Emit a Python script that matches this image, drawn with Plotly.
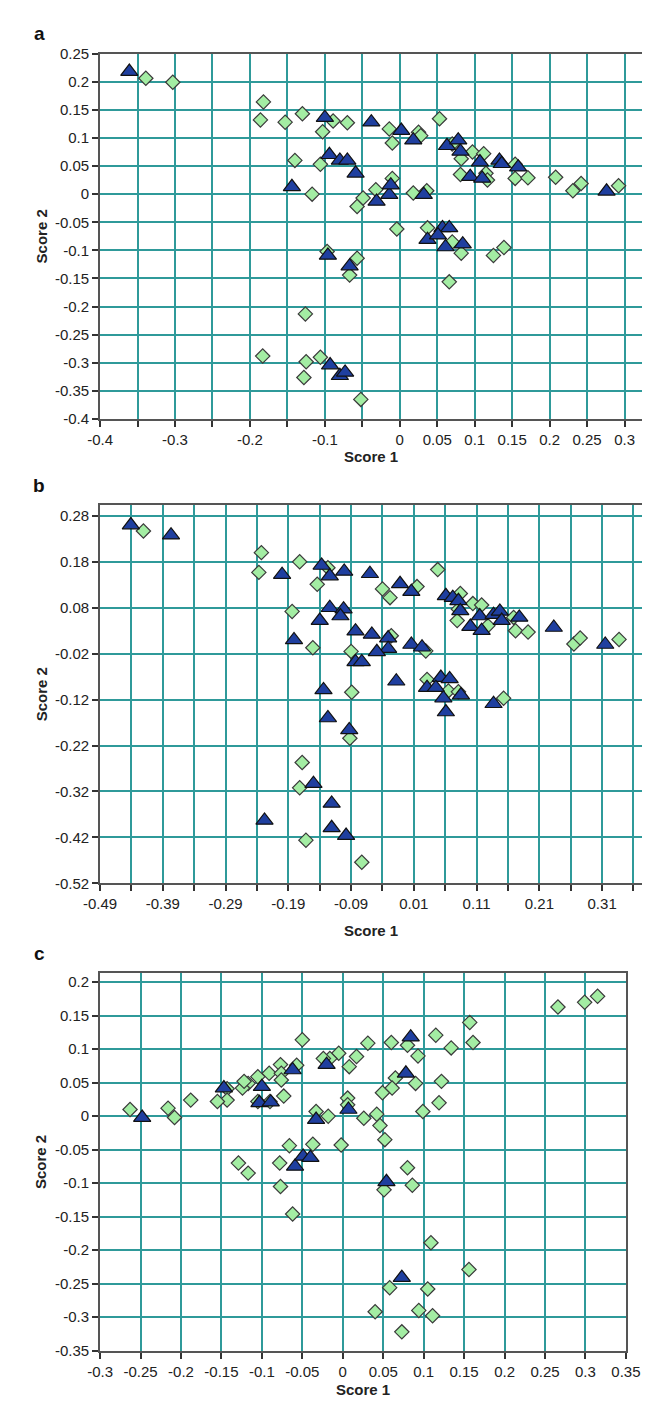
import plotly.graph_objects as go

W, H = 650, 1401

# ---------------- Panel a ----------------
a_tri_x = [-0.361, -0.100, -0.038, 0.002, 0.018, 0.063, 0.078, 0.081, -0.094, -0.080, -0.070, -0.059,
           -0.144, -0.031, -0.014, -0.012, 0.032, 0.094, 0.107, 0.110, 0.133, 0.136, 0.158, 0.276,
           0.057, 0.066, 0.037, 0.051, 0.061, 0.084, -0.096, -0.067, -0.093, -0.080, -0.073]
a_tri_y = [0.218, 0.136, 0.128, 0.113, 0.096, 0.086, 0.096, 0.076, 0.070, 0.060, 0.060, 0.037,
           0.013, -0.013, -0.001, 0.016, -0.001, 0.031, 0.057, 0.028, 0.060, 0.054, 0.048, 0.005,
           -0.060, -0.060, -0.081, -0.073, -0.094, -0.089, -0.109, -0.128, -0.304, -0.323, -0.317]
a_dia_x = [-0.339, -0.303, -0.182, -0.186, -0.153, -0.130, -0.089, -0.103, -0.070, -0.014, -0.010,
           0.025, 0.028, 0.053, 0.070, 0.082, 0.097, 0.112, 0.081, 0.115, 0.117, 0.154, 0.171, 0.208,
           0.231, 0.242, 0.292, -0.140, -0.106, -0.117, -0.010, -0.032, -0.049, -0.057, 0.018, 0.036,
           0.154, -0.004, 0.037, 0.070, 0.082, 0.125, 0.139, 0.066, -0.097, -0.057, -0.067, -0.126,
           -0.183, -0.125, -0.106, -0.128, -0.052]
a_dia_y = [0.206, 0.199, 0.164, 0.132, 0.128, 0.143, 0.130, 0.111, 0.127, 0.116, 0.091,
           0.110, 0.104, 0.134, 0.089, 0.063, 0.075, 0.072, 0.035, 0.037, 0.025, 0.028, 0.029, 0.030,
           0.006, 0.019, 0.015, 0.060, 0.053, 0.000, 0.028, 0.008, -0.007, -0.022, 0.002, 0.006,
           0.053, -0.062, -0.060, -0.085, -0.105, -0.109, -0.095, -0.156, -0.102, -0.114, -0.144, -0.213,
           -0.288, -0.298, -0.290, -0.326, -0.365]
a_xticks = [-0.4, -0.35, -0.3, -0.25, -0.2, -0.15, -0.1, -0.05, 0, 0.05, 0.1, 0.15, 0.2, 0.25, 0.3]
a_xlabels = ["-0.4", "", "-0.3", "", "-0.2", "", "-0.1", "", "0", "0.05", "0.1", "0.15", "0.2", "0.25", "0.3"]
a_yticks = [0.25, 0.2, 0.15, 0.1, 0.05, 0, -0.05, -0.1, -0.15, -0.2, -0.25, -0.3, -0.35, -0.4]
a_ylabels = ["0.25", "0.2", "0.15", "0.1", "0.05", "0", "-0.05", "-0.1", "-0.15", "-0.2", "-0.25", "-0.3", "-0.35", "-0.4"]

# ---------------- Panel b ----------------
b_tri_x = [-0.441, -0.377, -0.200, -0.137, -0.124, -0.101, -0.060, -0.012, 0.006, 0.061, 0.072, 0.081,
           0.084, -0.124, -0.102, -0.107, -0.140, -0.083, -0.057, -0.031, -0.031, -0.049, -0.083, -0.073,
           -0.181, 0.006, 0.023, 0.100, 0.115, 0.118, 0.137, 0.147, 0.150, 0.178, 0.233, 0.315,
           -0.018, 0.031, 0.053, 0.067, 0.045, 0.057, 0.085, 0.061, 0.137, -0.134, -0.127, -0.093,
           -0.150, -0.121, -0.228, -0.121, -0.098]
b_tri_y = [0.260, 0.238, 0.152, 0.172, 0.149, 0.159, 0.154, 0.132, 0.115, 0.106, 0.102, 0.095,
           0.073, 0.080, 0.077, 0.062, 0.052, 0.029, 0.022, 0.014, -0.009, -0.016, -0.038, -0.038,
           0.010, 0.000, -0.006, 0.039, 0.062, 0.030, 0.065, 0.072, 0.052, 0.059, 0.037, 0.000,
           -0.080, -0.094, -0.072, -0.075, -0.094, -0.117, -0.110, -0.147, -0.129, -0.099, -0.160, -0.186,
           -0.303, -0.346, -0.383, -0.399, -0.416]
b_dia_x = [-0.421, -0.233, -0.237, -0.172, -0.127, -0.144, -0.040, -0.028, 0.015, 0.048, 0.084, 0.104,
           0.118, 0.081, 0.079, 0.128, 0.172, 0.192, 0.265, 0.275, 0.337, -0.184, -0.151, -0.090,
           -0.026, 0.029, 0.169, 0.031, 0.065, 0.081, 0.153, -0.089, -0.092, -0.168, -0.172, -0.162,
           -0.073]
b_dia_y = [0.247, 0.200, 0.157, 0.180, 0.167, 0.131, 0.121, 0.102, 0.126, 0.163, 0.111, 0.089,
           0.086, 0.077, 0.052, 0.041, 0.030, 0.027, 0.001, 0.014, 0.011, 0.072, -0.007, -0.015,
           0.019, -0.014, 0.059, -0.076, -0.101, -0.103, -0.117, -0.104, -0.204, -0.257, -0.312, -0.426,
           -0.474]
b_xticks = [-0.49, -0.44, -0.39, -0.34, -0.29, -0.24, -0.19, -0.14, -0.09, -0.04, 0.01, 0.06, 0.11,
            0.16, 0.21, 0.26, 0.31, 0.36]
b_xlabels = ["-0.49", "", "-0.39", "", "-0.29", "", "-0.19", "", "-0.09", "", "0.01", "", "0.11",
             "", "0.21", "", "0.31", ""]
b_yticks = [0.28, 0.18, 0.08, -0.02, -0.12, -0.22, -0.32, -0.42, -0.52]
b_ylabels = ["0.28", "0.18", "0.08", "-0.02", "-0.12", "-0.22", "-0.32", "-0.42", "-0.52"]

# ---------------- Panel c ----------------
c_tri_x = [-0.248, -0.147, -0.100, -0.103, -0.089, -0.062, -0.020, 0.007, -0.033, 0.084, 0.078,
           -0.059, -0.049, -0.040, 0.054, 0.073]
c_tri_y = [-0.002, 0.042, 0.044, 0.020, 0.021, 0.069, 0.077, 0.010, -0.005, 0.118, 0.064,
           -0.075, -0.060, -0.062, -0.098, -0.241]
c_dia_x = [0.266, 0.299, 0.315, 0.157, 0.161, 0.115, 0.134, 0.060, 0.080, 0.093, 0.065, 0.061,
           0.049, 0.090, 0.122, 0.119, 0.099, 0.031, 0.017, 0.008, -0.005, -0.016, -0.024, -0.050,
           0.006, 0.006, 0.026, 0.042, 0.046, 0.052, -0.033, -0.018, -0.037, -0.002, -0.066, -0.073,
           -0.090, -0.105, -0.091, -0.077, -0.076, -0.076, -0.057, -0.105, -0.117, -0.124, -0.122,
           -0.143, -0.143, -0.155, -0.188, -0.216, -0.208, -0.263,
           -0.129, -0.117, -0.078, -0.077, -0.062, 0.080, 0.086, 0.051, 0.109, 0.156, 0.058, 0.105,
           0.040, 0.094, 0.111, 0.073]
c_dia_y = [0.163, 0.170, 0.179, 0.140, 0.110, 0.121, 0.102, 0.110, 0.106, 0.090, 0.057, 0.042,
           0.035, 0.049, 0.052, 0.020, 0.007, 0.109, 0.089, 0.074, 0.094, 0.086, 0.086, 0.114,
           0.027, 0.017, -0.003, 0.003, -0.014, -0.035, 0.007, 0.000, -0.042, -0.043, -0.044, 0.030,
           0.022, 0.022, 0.064, 0.077, 0.064, 0.054, 0.076, 0.059, 0.049, 0.042, 0.052,
           0.041, 0.024, 0.022, 0.024, 0.012, -0.002, 0.010,
           -0.070, -0.085, -0.070, -0.105, -0.146, -0.077, -0.103, -0.110, -0.189, -0.229, -0.256, -0.258,
           -0.292, -0.290, -0.298, -0.322]
c_xticks = [-0.3, -0.25, -0.2, -0.15, -0.1, -0.05, 0, 0.05, 0.1, 0.15, 0.2, 0.25, 0.3, 0.35]
c_xlabels = ["-0.3", "-0.25", "-0.2", "-0.15", "-0.1", "-0.05", "0", "0.05", "0.1", "0.15", "0.2",
             "0.25", "0.3", "0.35"]
c_yticks = [0.2, 0.15, 0.1, 0.05, 0, -0.05, -0.1, -0.15, -0.2, -0.25, -0.3, -0.35]
c_ylabels = ["0.2", "0.15", "0.1", "0.05", "0", "-0.05", "-0.1", "-0.15", "-0.2", "-0.25", "-0.3", "-0.35"]

FONT = "Liberation Sans Narrow, Arial Narrow, Liberation Sans, Arial, sans-serif"
GRID = "#2f9a9a"
TRI_FILL = "#1f3f9f"
DIA_FILL = "#a3eda3"

# pixel boxes of plot areas: (left, right, top, bottom)
boxes = [
    (79, 650, 37, 407),
    (79, 650, 494, 877),
    (79, 632, 968, 1350),
]
xranges = [
    [-0.4, -0.4 + (650 - 79) / 788.0],
    [-0.49, -0.49 + (650 - 79) / 660.0],
    [-0.3, 0.35],
]
yranges = [
    [-0.4, 0.25],
    [-0.52, -0.52 + (877 - 494) / 465.0],
    [-0.35, -0.35 + (1350 - 968) / 678.0],
]
title_gap = [38, 48, 39]
xtick_sets = [(a_xticks, a_xlabels), (b_xticks, b_xlabels), (c_xticks, c_xlabels)]
ytick_sets = [(a_yticks, a_ylabels), (b_yticks, b_ylabels), (c_yticks, c_ylabels)]
data = [
    (a_dia_x, a_dia_y, a_tri_x, a_tri_y),
    (b_dia_x, b_dia_y, b_tri_x, b_tri_y),
    (c_dia_x, c_dia_y, c_tri_x, c_tri_y),
]
letters = ["a", "b", "c"]

fig = go.Figure()
layout = dict(
    width=W, height=H, margin=dict(l=0, r=0, t=0, b=0),
    paper_bgcolor="white", plot_bgcolor="white", showlegend=False,
    font=dict(family=FONT, size=15, color="#222222"),
)
annotations = []
for i in range(3):
    sfx = "" if i == 0 else str(i + 1)
    L, R, T, B = boxes[i]
    dx, dy, tx, ty = data[i]
    fig.add_trace(go.Scatter(
        x=dx, y=dy, mode="markers", xaxis="x" + sfx, yaxis="y" + sfx,
        marker=dict(symbol="diamond", size=11, color=DIA_FILL,
                    line=dict(color="#3a3a3a", width=1.2)),
    ))
    fig.add_trace(go.Scatter(
        x=tx, y=ty, mode="markers", xaxis="x" + sfx, yaxis="y" + sfx,
        marker=dict(symbol="triangle-up", size=15, color=TRI_FILL,
                    line=dict(color="#111111", width=1.2)),
    ))
    xv, xl = xtick_sets[i]
    yv, yl = ytick_sets[i]
    layout["xaxis" + sfx] = dict(
        domain=[L / W, R / W], anchor="y" + sfx, range=xranges[i],
        tickmode="array", tickvals=xv, ticktext=xl,
        showgrid=True, gridcolor=GRID, gridwidth=2, zeroline=False,
        showline=True, linecolor="#555555", linewidth=2, mirror=True,
        ticks="outside", ticklen=6, tickcolor="#333333", tickwidth=1.5,
        tickfont=dict(size=15), fixedrange=True,
    )
    layout["yaxis" + sfx] = dict(
        domain=[1 - B / H, 1 - T / H], anchor="x" + sfx, range=yranges[i],
        tickmode="array", tickvals=yv, ticktext=yl,
        showgrid=True, gridcolor=GRID, gridwidth=2, zeroline=False,
        showline=True, linecolor="#555555", linewidth=2, mirror=(i == 2),
        ticks="outside", ticklen=6, tickcolor="#333333", tickwidth=1.5,
        tickfont=dict(size=15), fixedrange=True,
    )
    # axis titles
    annotations.append(dict(
        text="<b>Score 1</b>", xref="paper", yref="paper",
        x=((L + min(R, 648)) / 2) / W, y=1 - (B + title_gap[i]) / H,
        showarrow=False, font=dict(size=15, family=FONT, color="#222222"),
        xanchor="center", yanchor="middle",
    ))
    annotations.append(dict(
        text="<b>Score 2</b>", xref="paper", yref="paper",
        x=17 / W, y=1 - ((T + B) / 2) / H, textangle=-90,
        showarrow=False, font=dict(size=15, family=FONT, color="#222222"),
        xanchor="center", yanchor="middle",
    ))
    annotations.append(dict(
        text="<b>" + letters[i] + "</b>", xref="paper", yref="paper",
        x=15 / W, y=1 - (T - 20) / H,
        showarrow=False, font=dict(size=19, family="Liberation Sans, Arial, sans-serif", color="#111111"),
        xanchor="center", yanchor="middle",
    ))
layout["annotations"] = annotations
fig.update_layout(**layout)
fig.write_html("out.html")
